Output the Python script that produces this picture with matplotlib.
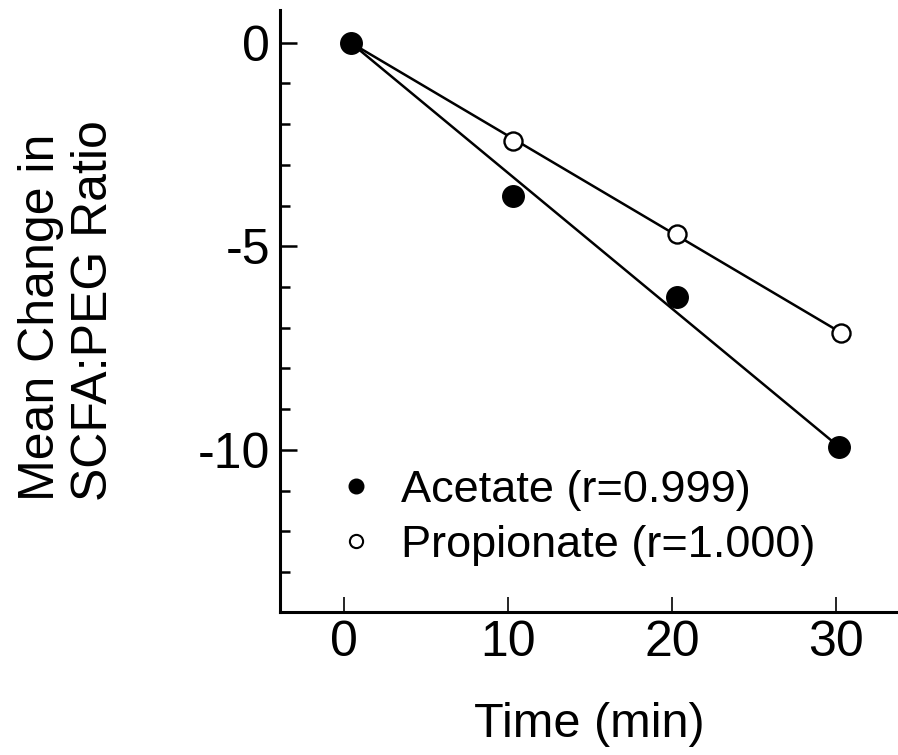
import matplotlib
matplotlib.use("Agg")
import matplotlib.pyplot as plt
from matplotlib.lines import Line2D

plt.rcParams['font.family'] = ['Liberation Sans', 'DejaVu Sans']
plt.rcParams['axes.unicode_minus'] = False

# Data
time_acetate = [0.4, 10.3, 20.3, 30.2]
acetate = [0.0, -3.76, -6.24, -9.93]
time_propionate = [0.4, 10.3, 20.3, 30.3]
propionate = [0.0, -2.41, -4.71, -7.12]
labels = ["Acetate (r=0.999)", "Propionate (r=1.000)"]
x_ticks = [0, 10, 20, 30]
y_major = [0, -5, -10]
y_minor = list(range(-13, 1))

fig = plt.figure(figsize=(8.98, 7.55), dpi=100)
ax = fig.add_axes([280/898, 143/755, 618/898, 602/755])

# fitted lines (from first to last point)
ax.plot([time_acetate[0], time_acetate[-1]], [acetate[0], acetate[-1]],
        color='black', lw=1.8, zorder=2)
ax.plot([time_propionate[0], time_propionate[-1]], [propionate[0], propionate[-1]],
        color='black', lw=1.8, zorder=2)

ax.plot(time_propionate, propionate, 'o', ms=13, mfc='white', mec='black', mew=1.7, zorder=3)
ax.plot(time_acetate, acetate, 'o', ms=15.5, mfc='black', mec='black', zorder=4)

ax.set_xlim(-3.9, 33.78)
ax.set_ylim(-13.98, 0.80)

for s in ['top', 'right']:
    ax.spines[s].set_visible(False)
for s in ['left', 'bottom']:
    ax.spines[s].set_linewidth(2.2)

ax.set_xticks(x_ticks)
ax.set_xticklabels([str(v) for v in x_ticks])
ax.set_yticks(y_major)
ax.set_yticklabels([str(v) for v in y_major])
ax.set_yticks(y_minor, minor=True)
ax.tick_params(axis='x', direction='in', length=11, width=1.2, labelsize=36, pad=6)
ax.tick_params(axis='y', which='major', direction='in', length=12, width=1.8, labelsize=36, pad=7)
ax.tick_params(axis='y', which='minor', direction='in', length=7, width=1.8)

ax.set_xlabel("Time (min)", fontsize=35, labelpad=26)
ax.set_ylabel("Mean Change in\nSCFA:PEG Ratio", fontsize=36, labelpad=58,
              multialignment='left', linespacing=1.2)

handles = [Line2D([], [], ls='none', marker='o', ms=10.5, mfc='black', mec='black'),
           Line2D([], [], ls='none', marker='o', ms=9.5, mfc='white', mec='black', mew=1.5)]
ax.legend(handles, labels, loc='upper left', bbox_to_anchor=(333/898, 1 - 470/755),
          bbox_transform=fig.transFigure, frameon=False, fontsize=32.5,
          handlelength=1.0, handletextpad=0.5, labelspacing=0.3, borderpad=0, borderaxespad=0)

fig.savefig("out.png", dpi=100)
